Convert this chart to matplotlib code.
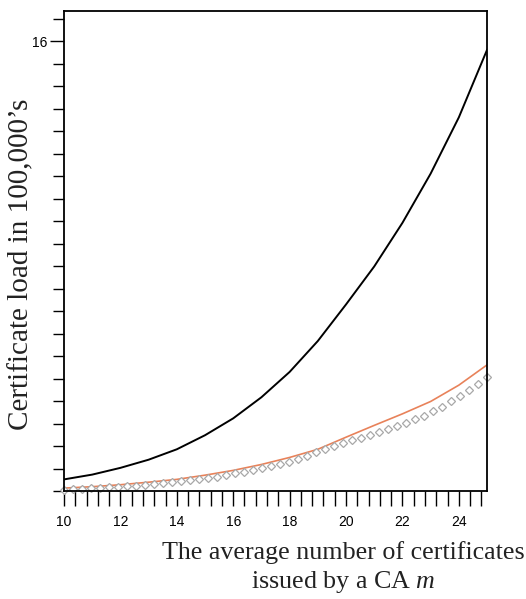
import matplotlib.pyplot as plt
import numpy as np
from matplotlib.ticker import MultipleLocator, FixedLocator

plt.rcParams['mathtext.fontset'] = 'custom'
plt.rcParams['mathtext.it'] = 'Liberation Serif:italic'
plt.rcParams['mathtext.rm'] = 'Liberation Serif'

# m values for the two solid curves
m = [10, 11, 12, 13, 14, 15, 16, 17, 18, 19, 20, 21, 22, 23, 24, 25]
black_load = [0.43, 0.6, 0.84, 1.13, 1.5, 2.0, 2.6, 3.35, 4.25, 5.35, 6.65, 8.0, 9.55, 11.3, 13.3, 15.7]
orange_load = [0.12, 0.17, 0.24, 0.33, 0.43, 0.58, 0.75, 0.96, 1.21, 1.5, 1.93, 2.35, 2.76, 3.2, 3.78, 4.5]

# diamond series (48 points from 10 to 25)
m_pts = [10.0, 10.32, 10.64, 10.96, 11.28, 11.6, 11.91, 12.23, 12.55, 12.87,
         13.19, 13.51, 13.83, 14.15, 14.47, 14.79, 15.11, 15.43, 15.74, 16.06,
         16.38, 16.7, 17.02, 17.34, 17.66, 17.98, 18.3, 18.62, 18.94, 19.26,
         19.57, 19.89, 20.21, 20.53, 20.85, 21.17, 21.49, 21.81, 22.13, 22.45,
         22.77, 23.09, 23.4, 23.72, 24.04, 24.36, 24.68, 25.0]
grey_load = [0.07, 0.08, 0.1, 0.11, 0.13, 0.15, 0.17, 0.19, 0.21, 0.24,
             0.27, 0.3, 0.33, 0.36, 0.4, 0.44, 0.48, 0.53, 0.58, 0.64,
             0.7, 0.76, 0.83, 0.9, 0.97, 1.05, 1.15, 1.27, 1.39, 1.5,
             1.61, 1.72, 1.82, 1.91, 2.02, 2.13, 2.23, 2.34, 2.45, 2.57,
             2.7, 2.86, 3.02, 3.2, 3.4, 3.61, 3.82, 4.07]

fig = plt.figure(figsize=(5.26, 5.99), dpi=100)
ax = fig.add_axes([0.1217, 0.1795, 0.8042, 0.802])

ax.plot(m, black_load, color='black', lw=1.4)
ax.plot(m, orange_load, color='#e8825a', lw=1.2)
ax.plot(m_pts, grey_load, ls='none', marker='D', ms=4.5, mfc='white',
        mec='#a8a8a8', mew=0.9, clip_on=False)

ax.set_xlim(10, 25)
ax.set_ylim(0, 17.08)

ax.xaxis.set_major_locator(FixedLocator([10, 12, 14, 16, 18, 20, 22, 24]))
ax.xaxis.set_minor_locator(MultipleLocator(0.4))
ax.yaxis.set_major_locator(FixedLocator([16]))
ax.yaxis.set_minor_locator(MultipleLocator(0.8))
ax.tick_params(axis='both', which='both', direction='out', width=1.0, color='black')
ax.tick_params(axis='x', which='both', length=11, labelsize=10, pad=6)
ax.tick_params(axis='y', which='minor', length=8)
ax.tick_params(axis='y', which='major', length=10, labelsize=10, pad=2)
for lab in ax.get_xticklabels() + ax.get_yticklabels():
    lab.set_family('Liberation Sans')

for s in ax.spines.values():
    s.set_linewidth(1.3)

fig.text(0.04, 0.559, "Certificate load in 100,000\u2019s", rotation=90,
         ha='center', va='center', family='Liberation Serif', fontsize=21,
         color='#222222')
fig.text(0.652, 0.077, "The average number of certificates",
         ha='center', va='center', family='Liberation Serif', fontsize=18.7,
         color='#222222')
fig.text(0.652, 0.028, "issued by a CA $m$",
         ha='center', va='center', family='Liberation Serif', fontsize=18.7,
         color='#222222')

fig.savefig("out.png", dpi=100)
